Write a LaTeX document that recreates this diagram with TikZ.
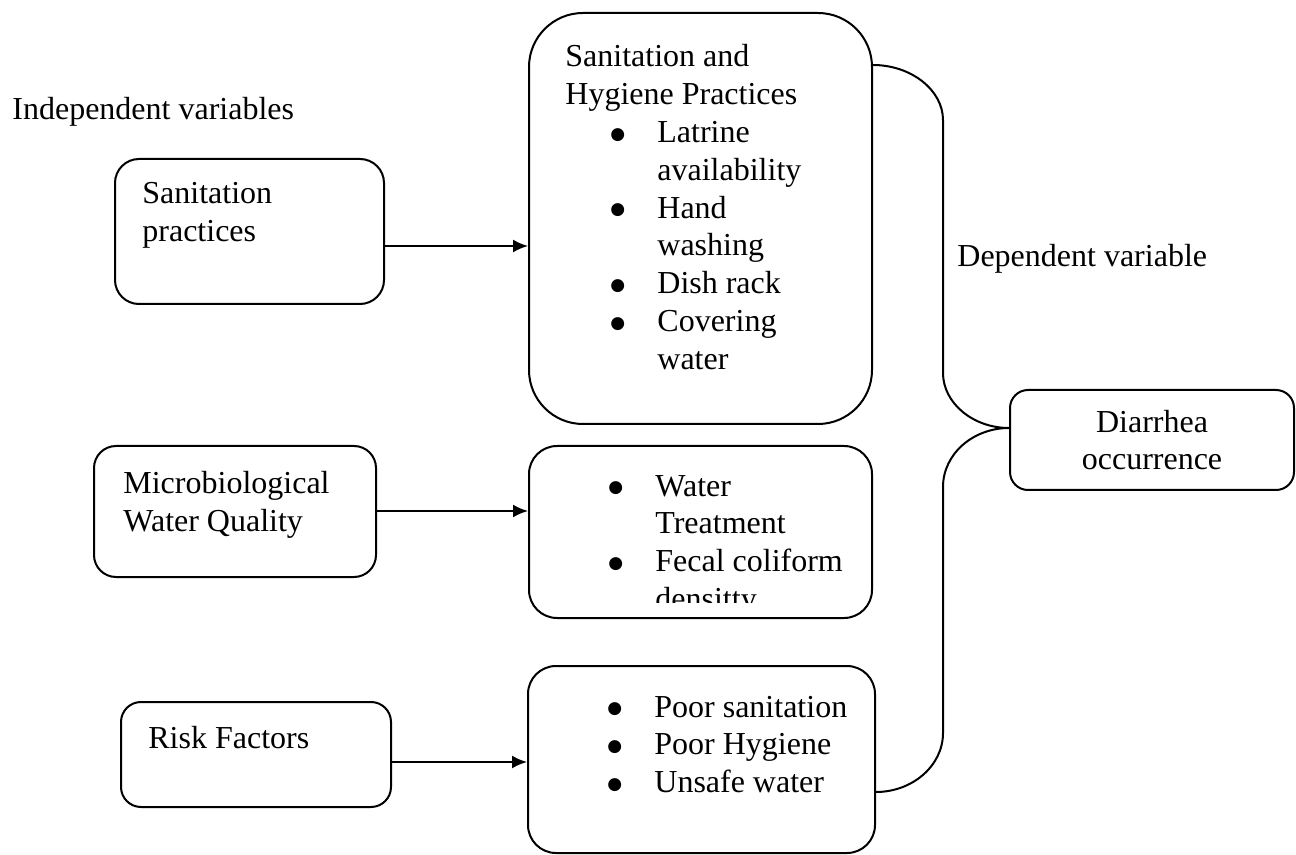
\documentclass[tikz,border=0pt]{standalone}
\usepackage{fontspec}
\setmainfont{Liberation Serif}
\newfontfamily\dotfont{DejaVu Sans}
\usetikzlibrary{arrows.meta,fit}
\newcommand{\bul}{\makebox[25pt][l]{\hspace{1.5pt}\raisebox{1.6pt}{\dotfont\fontsize{8.5pt}{8.5pt}\selectfont ●}}}

\begin{document}
\begin{tikzpicture}[x=0.5pt,y=-0.5pt,
  font=\fontsize{16pt}{18.9pt}\selectfont,
  box/.style={draw,line width=1pt,inner sep=0pt,rounded corners=#1},
  box/.default=12pt,
  txt/.style={anchor=base west,inner sep=0pt},
  arr/.style={-{Latex[length=7.5pt,width=6.5pt]},line width=1pt},
  brc/.style={line width=1pt}]
  \useasboundingbox (0,0) rectangle (1296,855);
  \node[txt] (iv) at (12,120) {Independent variables};
  \node[txt] (dv) at (957,267) {Dependent variable};
  % left column
  \node[box=12pt,fit={(115,159) (384,304)}] (sp) {};
  \node[txt] (spt) at (142,204) {\begin{tabular}[t]{@{}l@{}}Sanitation\\practices\end{tabular}};
  \node[box=11pt,fit={(94,446) (376,577)}] (mw) {};
  \node[txt] (mwt) at (123,494) {\begin{tabular}[t]{@{}l@{}}Microbiological\\Water Quality\end{tabular}};
  \node[box=10pt,fit={(121,702) (391,807)}] (rf) {};
  \node[txt] (rft) at (148,748) {Risk Factors};
  % middle column
  \node[box=27pt,fit={(529,13) (872,424)}] (sh) {};
  \node[txt] (sht) at (565,67) {\begin{tabular}[t]{@{}l@{}}Sanitation and\\Hygiene Practices\end{tabular}};
  \node[txt] (shl) at (607,142.6) {\begin{tabular}[t]{@{}l@{}l@{}}
    \bul & Latrine\\ & availability\\
    \bul & Hand\\ & washing\\
    \bul & Dish rack\\
    \bul & Covering\\ & water\end{tabular}};
  \node[box=14pt,fit={(529,446) (872,618)}] (wt) {};
  \begin{scope}
    \clip (520,440) rectangle (880,602);
    \node[txt] (wtl) at (605,496) {\begin{tabular}[t]{@{}l@{}l@{}}
      \bul & Water\\ & Treatment\\
      \bul & Fecal coliform\\ & densitty\end{tabular}};
  \end{scope}
  \node[box=14pt,fit={(528,666) (875,853)}] (rl) {};
  \node[txt] (rll) at (604,717) {\begin{tabular}[t]{@{}l@{}l@{}}
    \bul & Poor sanitation\\
    \bul & Poor Hygiene\\
    \bul & Unsafe water\end{tabular}};
  % dependent
  \node[box=9pt,minimum width=142pt,minimum height=50pt,align=center] (dia) at (1152,440) {Diarrhea\\occurrence};
  % arrows
  \draw[arr] (sp.east |- 0,246) -- (sh.west |- 0,246);
  \draw[arr] (mw.east |- 0,511) -- (wt.west |- 0,511);
  \draw[arr] (rf.east |- 0,762) -- (rl.west |- 0,762);
  % brace
  \coordinate (bTop) at (sh.east |- 0,65);
  \coordinate (bTip) at (dia.west |- 0,428);
  \coordinate (bBot) at (rl.east |- 0,792);
  \draw[brc] (bTop) .. controls (911,65) and (943,90) .. (943,120)
    -- (943,373) .. controls (943,403) and (973,428) .. (bTip)
    .. controls (973,428) and (943,454) .. (943,487)
    -- (943,733) .. controls (943,766) and (912,792) .. (bBot);
\end{tikzpicture}
\end{document}
